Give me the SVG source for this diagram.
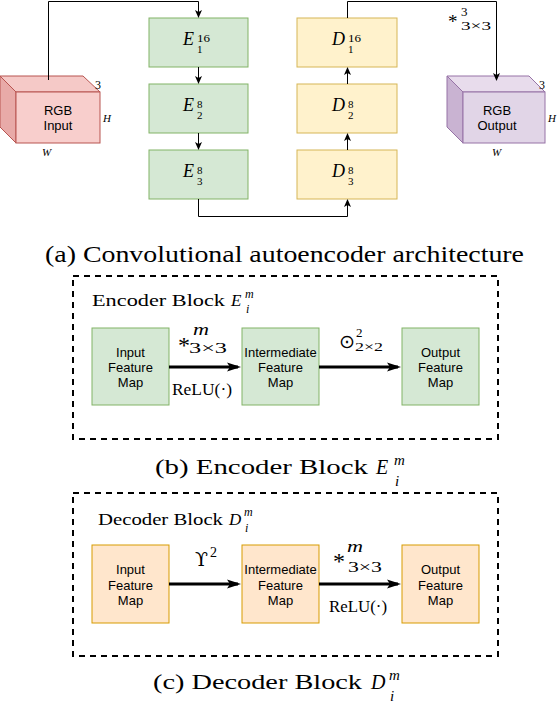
<svg xmlns="http://www.w3.org/2000/svg" width="558" height="708" viewBox="0 0 558 708">
<style>
.sans{font-family:"Liberation Sans",Arial,sans-serif;font-size:13px;fill:#000;text-anchor:middle}
.ser{font-family:"Liberation Serif","Times New Roman",serif;fill:#000}
.it{font-family:"Liberation Serif","Times New Roman",serif;font-style:italic;fill:#000}
.eb{fill:#d5e8d4;stroke:#82b366;stroke-width:1}
.db{fill:#fff2cc;stroke:#d6b656;stroke-width:1}
.ob{fill:#ffe6cc;stroke:#d79b00;stroke-width:1}
.c1{fill:none;stroke:#000;stroke-width:1}
.c3{fill:none;stroke:#000;stroke-width:3}
.dash{fill:none;stroke:#000;stroke-width:2;stroke-dasharray:6 5}
</style>
<defs>
<marker id="a" markerUnits="userSpaceOnUse" markerWidth="8" markerHeight="8" viewBox="0 0 8 8" refX="7" refY="4" orient="auto">
<path d="M0,0.5 L8,4 L0,7.5 L2,4 z" fill="#000"/>
</marker>
<marker id="b" markerUnits="userSpaceOnUse" markerWidth="14" markerHeight="10" viewBox="0 0 14 10" refX="11" refY="5" orient="auto">
<path d="M0,0.5 L14,5 L0,9.5 L3,5 z" fill="#000"/>
</marker>
</defs>

<!-- (a) architecture -->
<g id="rgb-input">
<polygon points="0,76 83,76 100,92 16,92" fill="#f5c9c7" stroke="#b85450"/>
<polygon points="0,76 16,92 16,143 0,127" fill="#e8aaa8" stroke="#b85450"/>
<rect x="16" y="92" width="84" height="51" fill="#f8cecc" stroke="#b85450"/>
<text class="sans" x="58" y="115" font-size="14">RGB</text>
<text class="sans" x="58" y="130" font-size="14">Input</text>
<text class="ser" x="95" y="89" font-size="12">3</text>
<text class="it" x="103" y="122" font-size="11">H</text>
<text class="it" x="42" y="156" font-size="11">W</text>
</g>

<g id="rgb-output">
<polygon points="447,76 529,76 545,92 463,92" fill="#e8dcec" stroke="#9673a6"/>
<polygon points="447,76 463,92 463,143 447,127" fill="#c9b3d2" stroke="#9673a6"/>
<rect x="463" y="92" width="82" height="51" fill="#e1d5e7" stroke="#9673a6"/>
<text class="sans" x="497" y="115" font-size="14">RGB</text>
<text class="sans" x="497" y="130" font-size="14">Output</text>
<text class="ser" x="539" y="89" font-size="12">3</text>
<text class="it" x="548" y="122" font-size="11">H</text>
<text class="it" x="492" y="156" font-size="11">W</text>
</g>

<g id="E1"><rect class="eb" x="149" y="18" width="99" height="49"/>
<text class="it" x="183" y="45" font-size="18">E</text><text class="ser" x="197" y="42" font-size="11" textLength="13" lengthAdjust="spacingAndGlyphs">16</text><text class="ser" x="197" y="53" font-size="11">1</text></g>
<g id="E2"><rect class="eb" x="149" y="84" width="99" height="49"/>
<text class="it" x="183" y="111" font-size="18">E</text><text class="ser" x="197" y="108" font-size="11">8</text><text class="ser" x="197" y="119" font-size="11">2</text></g>
<g id="E3"><rect class="eb" x="149" y="150" width="99" height="49"/>
<text class="it" x="183" y="177" font-size="18">E</text><text class="ser" x="197" y="174" font-size="11">8</text><text class="ser" x="197" y="185" font-size="11">3</text></g>

<g id="D1"><rect class="db" x="297" y="18" width="100" height="49"/>
<text class="it" x="332" y="45" font-size="18">D</text><text class="ser" x="348" y="42" font-size="11" textLength="13" lengthAdjust="spacingAndGlyphs">16</text><text class="ser" x="348" y="53" font-size="11">1</text></g>
<g id="D2"><rect class="db" x="297" y="84" width="100" height="49"/>
<text class="it" x="332" y="111" font-size="18">D</text><text class="ser" x="348" y="108" font-size="11">8</text><text class="ser" x="348" y="119" font-size="11">2</text></g>
<g id="D3"><rect class="db" x="297" y="150" width="100" height="49"/>
<text class="it" x="332" y="177" font-size="18">D</text><text class="ser" x="348" y="174" font-size="11">8</text><text class="ser" x="348" y="185" font-size="11">3</text></g>

<g id="connectors-a">
<polyline class="c1" points="48.5,80 48.5,1.5 198.5,1.5 198.5,17" marker-end="url(#a)"/>
<line class="c1" x1="198.5" y1="67" x2="198.5" y2="83" marker-end="url(#a)"/>
<line class="c1" x1="198.5" y1="133" x2="198.5" y2="149" marker-end="url(#a)"/>
<polyline class="c1" points="198.5,199 198.5,216.5 347.5,216.5 347.5,200" marker-end="url(#a)"/>
<line class="c1" x1="347.5" y1="150" x2="347.5" y2="134" marker-end="url(#a)"/>
<line class="c1" x1="347.5" y1="84" x2="347.5" y2="68" marker-end="url(#a)"/>
<polyline class="c1" points="347.5,18 347.5,1.5 496.5,1.5 496.5,80" marker-end="url(#a)"/>
<text class="ser" x="448" y="28" font-size="19">*</text>
<text class="ser" x="461" y="16" font-size="13">3</text>
<text class="ser" x="461" y="30" font-size="13" textLength="30" lengthAdjust="spacingAndGlyphs">3×3</text>
</g>
<text class="ser" x="45" y="262" font-size="23" textLength="479" lengthAdjust="spacingAndGlyphs">(a) Convolutional autoencoder architecture</text>

<!-- (b) encoder block -->
<rect class="dash" x="73" y="276" width="425" height="163"/>
<text class="ser" x="92" y="306" font-size="17" textLength="133" lengthAdjust="spacingAndGlyphs">Encoder Block</text>
<text class="it" x="231" y="306" font-size="17">E</text>
<text class="it" x="245" y="298" font-size="12">m</text>
<text class="it" x="246" y="313" font-size="12">i</text>

<g id="enc-input"><rect class="eb" x="92" y="328" width="77" height="77"/>
<text class="sans" x="130.5" y="357">Input</text><text class="sans" x="130.5" y="372">Feature</text><text class="sans" x="130.5" y="387">Map</text></g>
<g id="enc-inter"><rect class="eb" x="242" y="328" width="77" height="77"/>
<text class="sans" x="280.5" y="357">Intermediate</text><text class="sans" x="280.5" y="372">Feature</text><text class="sans" x="280.5" y="387">Map</text></g>
<g id="enc-output"><rect class="eb" x="402" y="328" width="77" height="77"/>
<text class="sans" x="440.5" y="357">Output</text><text class="sans" x="440.5" y="372">Feature</text><text class="sans" x="440.5" y="387">Map</text></g>

<g id="connectors-b">
<line class="c3" x1="169" y1="367" x2="238" y2="367" marker-end="url(#b)"/>
<line class="c3" x1="319" y1="367" x2="398" y2="367" marker-end="url(#b)"/>
<text class="ser" x="178" y="353" font-size="24">*</text>
<text class="it" x="193" y="335" font-size="17" textLength="16" lengthAdjust="spacingAndGlyphs">m</text>
<text class="ser" x="189" y="353" font-size="14" textLength="38" lengthAdjust="spacingAndGlyphs">3×3</text>
<text class="ser" x="172" y="395" font-size="17" textLength="60" lengthAdjust="spacingAndGlyphs">ReLU(·)</text>
<text x="339" y="348" font-family="DejaVu Sans,sans-serif" font-size="19" textLength="16" lengthAdjust="spacingAndGlyphs">⊙</text>
<text class="ser" x="356" y="337" font-size="13">2</text>
<text class="ser" x="355" y="351" font-size="13" textLength="28" lengthAdjust="spacingAndGlyphs">2×2</text>
</g>
<text class="ser" x="155" y="474" font-size="22" textLength="213" lengthAdjust="spacingAndGlyphs">(b) Encoder Block</text>
<text class="it" x="376" y="474" font-size="20">E</text>
<text class="it" x="394" y="465" font-size="15">m</text>
<text class="it" x="395" y="486" font-size="15">i</text>

<!-- (c) decoder block -->
<rect class="dash" x="73" y="493" width="425" height="163"/>
<text class="ser" x="98" y="525" font-size="17" textLength="125" lengthAdjust="spacingAndGlyphs">Decoder Block</text>
<text class="it" x="229" y="525" font-size="17">D</text>
<text class="it" x="244" y="516" font-size="12">m</text>
<text class="it" x="245" y="532" font-size="12">i</text>

<g id="dec-input"><rect class="ob" x="92" y="545" width="77" height="78"/>
<text class="sans" x="130.5" y="574">Input</text><text class="sans" x="130.5" y="590">Feature</text><text class="sans" x="130.5" y="605">Map</text></g>
<g id="dec-inter"><rect class="ob" x="242" y="545" width="77" height="78"/>
<text class="sans" x="280.5" y="574">Intermediate</text><text class="sans" x="280.5" y="590">Feature</text><text class="sans" x="280.5" y="605">Map</text></g>
<g id="dec-output"><rect class="ob" x="402" y="545" width="77" height="78"/>
<text class="sans" x="440.5" y="574">Output</text><text class="sans" x="440.5" y="590">Feature</text><text class="sans" x="440.5" y="605">Map</text></g>

<g id="connectors-c">
<line class="c3" x1="169" y1="584" x2="238" y2="584" marker-end="url(#b)"/>
<line class="c3" x1="319" y1="584" x2="398" y2="584" marker-end="url(#b)"/>
<text x="195" y="566" font-family="DejaVu Serif,serif" font-size="19">ϒ</text>
<text class="ser" x="210" y="557" font-size="14">2</text>
<text class="ser" x="333" y="569" font-size="24">*</text>
<text class="it" x="347" y="552" font-size="17" textLength="16" lengthAdjust="spacingAndGlyphs">m</text>
<text class="ser" x="348" y="572" font-size="15" textLength="34" lengthAdjust="spacingAndGlyphs">3×3</text>
<text class="ser" x="329" y="612" font-size="17" textLength="58" lengthAdjust="spacingAndGlyphs">ReLU(·)</text>
</g>
<text class="ser" x="153" y="689" font-size="22" textLength="209" lengthAdjust="spacingAndGlyphs">(c) Decoder Block</text>
<text class="it" x="371" y="689" font-size="20">D</text>
<text class="it" x="389" y="680" font-size="15">m</text>
<text class="it" x="390" y="701" font-size="15">i</text>
</svg>
